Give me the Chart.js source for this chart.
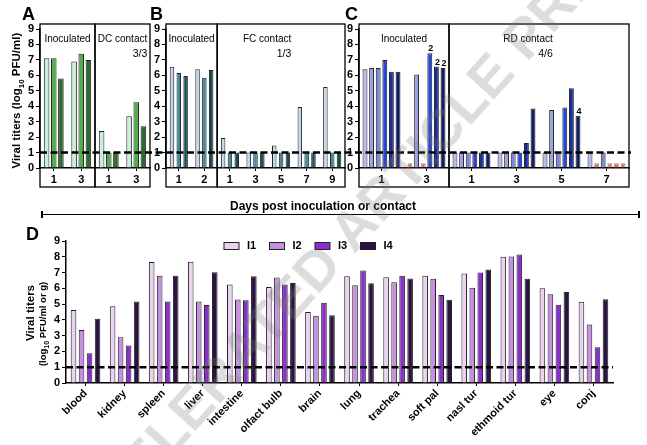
<!DOCTYPE html>
<html>
<head>
<meta charset="utf-8">
<script src="https://cdn.jsdelivr.net/npm/chart.js@4.4.1/dist/chart.umd.min.js"></script>
<style>
body { margin: 0; background: #fff; }
#wrap { position: relative; width: 647px; height: 445px; overflow: hidden; background: #fff;
        font-family: "Liberation Sans", Arial, sans-serif; color: #000; }
#wrap canvas { position: absolute; left: 0; top: 0; }
.txt { position: absolute; font-weight: bold; white-space: nowrap; }
.letter { font-size: 18px; line-height: 18px; }
.rot { transform: rotate(-90deg); text-align: center; }
.wm { position: absolute; font-size: 56px; line-height: 60px; height: 60px; font-weight: bold;
      color: rgba(120,120,120,0.26); white-space: nowrap; pointer-events: none; }
</style>
</head>
<body>
<div id="wrap">
  <canvas id="chartB" width="647" height="445"></canvas>
  <canvas id="chartC" width="647" height="445"></canvas>
  <canvas id="chartA" width="647" height="445"></canvas>
  <canvas id="chartD" width="647" height="445"></canvas>

  <div class="txt letter" style="left:22px;top:5px;">A</div>
  <div class="txt letter" style="left:150px;top:5px;">B</div>
  <div class="txt letter" style="left:345px;top:5px;">C</div>
  <div class="txt letter" style="left:26px;top:225px;">D</div>

  <div class="txt rot" style="left:-67px;top:90px;width:172px;font-size:11.5px;line-height:16px;">Viral titers (log<sub style="font-size:8px">10</sub> PFU/ml)</div>
  <div class="txt rot" style="left:-30px;top:306px;width:120px;font-size:11.5px;line-height:14px;">Viral titers</div>
  <div class="txt rot" style="left:-15px;top:315px;width:120px;font-size:9.5px;line-height:14px;">(log<sub style="font-size:7px">10</sub> PFU/ml or g)</div>

  <div class="txt" style="left:223px;top:199px;width:200px;text-align:center;font-size:12px;">Days post inoculation or contact</div>
  <div style="position:absolute;left:42px;top:214px;width:597px;height:0;border-top:1.5px solid #000;"></div>
  <div style="position:absolute;left:41px;top:211px;width:1.5px;height:7px;background:#000;"></div>
  <div style="position:absolute;left:638px;top:211px;width:1.5px;height:7px;background:#000;"></div>

  <div class="wm" style="left:340px;top:212px;transform-origin:0 50%;transform:rotate(-48deg);">ARTICLE PREVIEW</div>
  <div class="wm" style="right:322px;top:212px;transform-origin:calc(100% + 15px) 50%;transform:rotate(-48deg);">ACCELERATED</div>
</div>

<script>
// ---- panel A : DC contact (green) ----
var aDays = ['1', '3', '1', '3'];
var aFerret1 = [7.1, 6.9, 2.4, 3.35];
var aFerret2 = [7.1, 7.4, 1.0, 4.25];
var aFerret3 = [5.8, 7.0, 1.0, 2.7];
var aColors = ['#c8efd9', '#4fae4b', '#2c6a31'];

// ---- panel B : FC contact (blue / teal) ----
var bDays = ['1', '2', '1', '3', '5', '7', '9'];
var bFerret1 = [6.55, 6.4, 1.95, 1.0, 1.45, 3.95, 5.25];
var bFerret2 = [6.15, 5.85, 1.0, 1.0, 1.0, 1.0, 1.0];
var bFerret3 = [5.95, 6.35, 1.0, 1.0, 1.0, 1.0, 1.0];
var bColors = ['#c6d6ee', '#3e8c9c', '#1e4a55'];

// ---- panel C : RD contact (6 ferrets) ----
var cDays = ['1', '3', '1', '3', '5', '7'];
var cFerret1 = [6.4, 0.3, 1.0, 1.0, 1.0, 1.0];
var cFerret2 = [6.47, 6.06, 1.0, 1.0, 3.75, 0.3];
var cFerret3 = [6.47, 0.3, 1.0, 1.0, 1.0, 1.0];
var cFerret4 = [7.0, 7.43, 1.0, 1.0, 3.92, 0.3];
var cFerret5 = [6.23, 6.57, 1.0, 1.62, 5.17, 0.3];
var cFerret6 = [6.23, 6.47, 1.0, 3.86, 3.38, 0.3];
var cColors = ['#b9bdee', '#9aa1e3', '#7c86dd', '#2246df', '#1b2ea0', '#101c62'];
// [ferret index, day index] of missing samples (red squares)
var cMissing = [[0, 1], [2, 1], [1, 5], [3, 5], [4, 5], [5, 5]];
// sample counts printed above bars
var cCounts = [
  { series: 3, cat: 1, text: '2' },
  { series: 4, cat: 1, text: '2' },
  { series: 5, cat: 1, text: '2' },
  { series: 5, cat: 4, text: '4' }
];

// ---- panel D : tissues ----
var tissues = ['blood', 'kidney', 'spleen', 'liver', 'intestine', 'olfact bulb', 'brain',
               'lung', 'trachea', 'soft pal', 'nasl tur', 'ethmoid tur', 'eye', 'conj'];
var dI1 = [4.62, 4.87, 7.67, 7.69, 6.24, 6.09, 4.5, 6.77, 6.7, 6.8, 6.94, 8.0, 6.0, 5.15];
var dI2 = [3.36, 2.9, 6.79, 5.17, 5.29, 6.68, 4.26, 6.19, 6.38, 6.6, 6.04, 8.02, 5.63, 3.71];
var dI3 = [1.89, 2.37, 5.17, 4.94, 5.25, 6.24, 5.08, 7.13, 6.8, 5.58, 7.0, 8.15, 4.96, 2.27];
var dI4 = [4.08, 5.17, 6.8, 7.02, 6.76, 6.34, 4.3, 6.33, 6.63, 5.27, 7.19, 6.6, 5.77, 5.31];
var dNames = ['I1', 'I2', 'I3', 'I4'];
var dColors = ['#ead3f1', '#c78fe0', '#8a2fc9', '#2c1442'];

var detectionLimit = 1;

var FONT = '"Liberation Sans", Arial, sans-serif';
Chart.defaults.font.family = FONT;
Chart.defaults.color = '#000';
Chart.defaults.animation = false;

// frames, group titles, detection limit, counts and legend (config kept in a closure)
function makeDecor(opts) {
  return {
    id: 'panelDecor',
    afterDatasetsDraw: function (chart) {
      var ctx = chart.ctx, area = chart.chartArea;
      var x = chart.scales.x, y = chart.scales.y;
      ctx.save();

      (opts.boxes || []).forEach(function (b) {
        var half = (x.getPixelForValue(1) - x.getPixelForValue(0)) / 2;
        var l = x.getPixelForValue(b.first) - half;
        var r = x.getPixelForValue(b.last) + half;
        var t = area.top - 5, btm = area.bottom + 19;
        ctx.lineWidth = 1.3;
        ctx.strokeStyle = '#000';
        ctx.strokeRect(l, t, r - l, btm - t);
        ctx.fillStyle = '#000';
        ctx.font = '10px ' + FONT;
        ctx.textAlign = 'center';
        ctx.textBaseline = 'middle';
        var cx = (l + r) / 2 + (b.shift || 0);
        ctx.fillText(b.title, cx, t + 15);
        if (b.note) {
          var w = ctx.measureText(b.title).width;
          ctx.font = '10.5px ' + FONT;
          ctx.textAlign = 'right';
          ctx.fillText(b.note, cx + w / 2, t + 30);
        }
      });

      (opts.counts || []).forEach(function (c) {
        var bar = chart.getDatasetMeta(c.series).data[c.cat];
        ctx.fillStyle = '#000';
        ctx.font = 'bold 9px ' + FONT;
        ctx.textAlign = 'center';
        ctx.textBaseline = 'bottom';
        ctx.fillText(c.text, bar.x + 1, bar.y);
      });

      if (opts.limit !== undefined) {
        var ly = y.getPixelForValue(opts.limit);
        ctx.setLineDash([7, 3.5]);
        ctx.lineWidth = 2.6;
        ctx.strokeStyle = '#000';
        ctx.beginPath();
        ctx.moveTo(area.left, ly);
        ctx.lineTo(opts.limitEnd || area.right, ly);
        ctx.stroke();
        ctx.setLineDash([]);
      }

      if (opts.legend) {
        var L = opts.legend;
        chart.data.datasets.forEach(function (ds, i) {
          var lx = L.x + i * L.step;
          ctx.fillStyle = ds.backgroundColor;
          ctx.fillRect(lx, L.y - 3.5, 15, 7);
          ctx.strokeStyle = '#222';
          ctx.lineWidth = 1;
          ctx.strokeRect(lx, L.y - 3.5, 15, 7);
          ctx.fillStyle = '#000';
          ctx.font = 'bold 11px ' + FONT;
          ctx.textAlign = 'left';
          ctx.textBaseline = 'middle';
          ctx.fillText(ds.label, lx + 23, L.y);
        });
      }
      ctx.restore();
    }
  };
}

function axes(xHeight, xTicks) {
  return {
    x: {
      offset: true,
      grid: { offset: false, drawOnChartArea: false, tickLength: 3, color: '#000', lineWidth: 1 },
      border: { color: '#000', width: 1.5 },
      ticks: xTicks,
      afterFit: function (s) { s.height = xHeight; }
    },
    y: {
      min: 0, max: 9,
      grid: { drawOnChartArea: false, tickLength: 4, color: '#000', lineWidth: 1 },
      border: { color: '#000', width: 1.5 },
      ticks: { stepSize: 1, autoSkip: false, padding: 2, font: { size: 11, weight: 'bold' } },
      afterFit: function (s) { s.width = 30; }
    }
  };
}

function topPanel(id, labels, series, colors, left, right, catPct, barPct, decor, missing) {
  function isMissing(i, j) {
    return (missing || []).some(function (m) { return m[0] === i && m[1] === j; });
  }
  var datasets = series.map(function (vals, i) {
    return {
      data: vals,
      backgroundColor: function (c) { return isMissing(i, c.dataIndex) ? '#ea6a5c' : colors[i]; },
      borderColor: function (c) { return isMissing(i, c.dataIndex) ? '#9a9a9a' : '#222'; },
      borderWidth: 1,
      categoryPercentage: catPct,
      barPercentage: barPct
    };
  });
  return new Chart(document.getElementById(id), {
    type: 'bar',
    data: { labels: labels, datasets: datasets },
    options: {
      responsive: false,
      layout: { padding: { left: left - 30, right: 647 - right, top: 29, bottom: 445 - 168 - 20 } },
      plugins: { legend: { display: false }, tooltip: { enabled: false } },
      scales: axes(20, { padding: 2, autoSkip: false, maxRotation: 0, font: { size: 11, weight: 'bold' } })
    },
    plugins: [makeDecor(decor)]
  });
}

topPanel('chartB', bDays, [bFerret1, bFerret2, bFerret3], bColors, 166, 345, 0.8, 0.66, {
  boxes: [
    { first: 0, last: 1, title: 'Inoculated' },
    { first: 2, last: 6, title: 'FC contact', note: '1/3', shift: -14 }
  ]
});

topPanel('chartC', cDays, [cFerret1, cFerret2, cFerret3, cFerret4, cFerret5, cFerret6], cColors,
  359, 629, 0.88, 0.74, {
    boxes: [
      { first: 0, last: 1, title: 'Inoculated' },
      { first: 2, last: 5, title: 'RD contact', note: '4/6', shift: -11 }
    ],
    counts: cCounts
  }, cMissing);

topPanel('chartA', aDays, [aFerret1, aFerret2, aFerret3], aColors, 40, 150, 0.78, 0.78, {
  boxes: [
    { first: 0, last: 1, title: 'Inoculated' },
    { first: 2, last: 3, title: 'DC contact', note: '3/3' }
  ],
  limit: detectionLimit,
  limitEnd: 631
});

new Chart(document.getElementById('chartD'), {
  type: 'bar',
  data: {
    labels: tissues,
    datasets: [dI1, dI2, dI3, dI4].map(function (vals, i) {
      return {
        label: dNames[i],
        data: vals,
        backgroundColor: dColors[i],
        borderColor: '#222',
        borderWidth: 1,
        categoryPercentage: 0.82,
        barPercentage: 0.7
      };
    })
  },
  options: {
    responsive: false,
    layout: { padding: { left: 66 - 30, right: 647 - 613, top: 241, bottom: 445 - 383 - 55 } },
    plugins: { legend: { display: false }, tooltip: { enabled: false } },
    scales: axes(55, { padding: 1, autoSkip: false, minRotation: 45, maxRotation: 45,
                       font: { size: 11, weight: 'bold' } })
  },
  plugins: [makeDecor({ limit: detectionLimit, legend: { x: 224, y: 246, step: 45.5 } })]
});
</script>
</body>
</html>
